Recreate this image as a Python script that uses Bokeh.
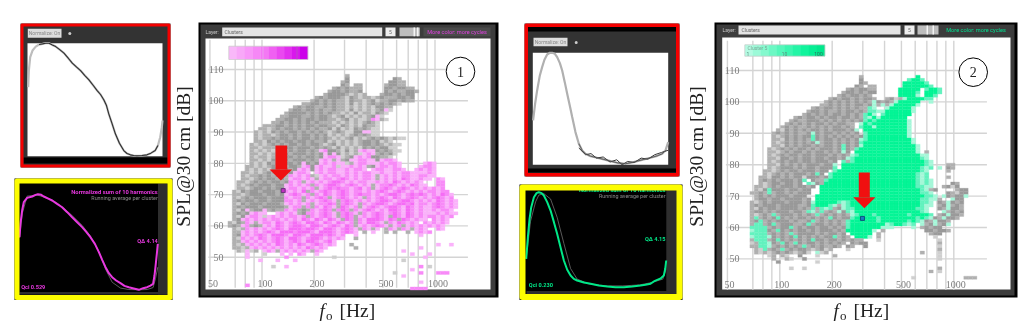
import math
from bokeh.plotting import figure
from bokeh.models import Range1d, LogScale
from bokeh.core.properties import value
from bokeh.embed import file_html
from bokeh.resources import INLINE

# ---------- data ----------
FREQ_GRID = [50, 70, 80, 90, 100, 200, 300, 400, 500, 600, 700, 800, 900, 1000]
FREQ_LABELS = [50, 100, 200, 500, 1000]
SPL_GRID = [50, 60, 70, 80, 90, 100, 110]

# rows of cells, one per dB from H_TOP_DB downwards; "col:codes" runs, later runs overwrite
# column 0 is MIDI note 36; . g d = grey shades, p m M = pink shades, t T G = green shades
H_TOP_DB = 108
H_FIRST_MIDI = 36
H1_ROWS = [
"27:g", "27:d 38:dg", "26:gd 37:ddgg", "26:dg 29:gg 36:gddgg", "24:gdgdggg 36:ddgddgg",
"23:gddgdggd 36:dgdggddg", "22:gddddg.g.g 35:gddgdgdd", "20:gdgdddg.dg.gg.g 35:dgggddgd",
"19:gdgdgdgg.dgg.gd.ggddgdgg", "17:ggddgdgdgg.d.g.gdgdgdg.", "15:gdgddggdgdgg.g.g.g.ddgg",
"14:gddgddgdggdgg.d.g.g.gdp.", "13:gddddgdgdgdgg.g.d.gg.dg.", "12:ggdddggdgddg.gd.g.g.gdp.",
"11:ggddgdgddgddgg.gd.g..gmpg.", "10:ggdgdgdgdgdggg.g.g.g.gdg.", "8:gggddgdgdgddgddgg.dg.g.dgg.",
"7:gg.gdgddgdgdgdggd.d.g.dgdg..", "6:g.g.dgdgddgdgdgdg.gdg..ddpp..", "6:g.gg.gddgdgddgdgd.g.g.gdgdg..",
"6:g.ggdgddgdgddgdgdg.g.gd.g.gdgdg.g..", "6:gg.dgdgddgddgdggd.g.g.g.gddgd.g.", "5:g.g.gdgdgddgdgddg.gd.g.g.gddgdg.g..",
"5:gg.gggdgddgdddgdgdg.d.g.g.dgdgdd..", "5:g.g.g.ddgdgddgdgdgddg.d.g.gdgdgdg.. 21:pm 30:pmpp",
"5:gg.g.gdgdgdddgdgdgdgd.g.g.dgdgdgd. 22:p 24:p 31:pmp", "5:g.gg.gdgddgdgddgdgg.g.gd.gdgddgg. 22:pmmp 29:pmpm",
"5:gg.g.ddgdgdddgdgdgdg.gd.g.gdgdg. 21:pmp 25:p 28:ppmmpp 35:pmmp",
"5:g.g.dgdgddgdddgddg.g.g.gdgdgdgd.. 17:p 21:pmpmpp 29:pmmpp 34:pmpmmp 45:pmp",
"4:gg.g.gdgdgddgdgdgg.dg.g.gdgdgd.g.. 17:pm 20:pmppm 26:ppmpmp 34:pmmpmp 44:pmmp",
"4:g.g.g.ddgdgdddgdgdd 16:pmp 20:pmpmmppmpmmp 33:pmmppmmp 43:pmpmp",
"3:gg.g.gdgddgdddg 15:pmmp 20:pmpmmppmpmpmmp 34:pmppmpmmpp 44:ppmp",
"3:g.ggdgdgddgdd 14:mpmpmg.pmpmmpmpmpmmpgpmpmpmmppmmpp",
"3:gg.gdgddgdg 14:pmmpmpgpmmpmMmpmpmmpgpmpmpMmppmpp 48:mp",
"2:gg.gdgdgddgd 14:mpmgpmpmpmMMmpmpmmppmpmpMmpmpmp 48:mm",
"2:g.gdgdddgddg 13:pmpmpmgmpmMMmpmMmpmpgpmmMmpmpMmpp 48:mm",
"2:gg.gddgdgdddg 13:pmmpmpmgpmMmMmmpmMpmgpmMmpmMmpmpmp 47:mpm",
"1:g.dgddgdddgdd 13:mpmpMgmpmMmpmMmpmmpmpmMmpmMmpmpmpmm 47:mpmm",
"1:gg.gdddgddgdd 13:pmMmpmgmpMmpmMmpmMmmpmpmMMmpmMmMmpm 47:mpMmp",
"1:g.gdgdddgdddg 13:mpmmgmpmMmgpmMmpmpgmpmMmpMmpmMmpmm 46:pmMmpm",
"1:gdgddgddgdddg 13:mmpmgpmpmMmpgmMmpmpmpmMMmpmMMmpmp 46:mpMmpmp",
"1:g.dgdddgdddg 13:pmpmpmgpmmMmgmMmpgmpmMMmpmMMmMpmm 45:mpmMmpmp",
"1:gdgdddgddddd 13:gpmmgmgmpMmpgMmpmgpmMmpmMMmpMmpmp 46:pmMmpmp",
"1:g.ddgdddgd 4:p 8:p 10:dgg 13:mpmgdgmpmMmgmMmgmpmMmpmpMMmpMmpmpp 47:mpmmp",
"1:gdgdgddg 5:pmpp 11:pm 13:pmpgdmmpmMmpgmMmpgmpmMmpmMmpMmpmpp 47:pmpmpp",
"1:g.dg 4:pmmp.pmpmpmmpmgmpmMmpgmMmgpmpmMmpgMmpMmpmpm 47:mpmpm",
"1:gd 3:pmpmpmpmmpmpmpMmpMmpMmpgMmgmpMMMmpMmgMmpmpp 47:mpmp",
"0:g.dg 4:mpgpmmpMmpmMmpMMmpMmpMmpmgmpMMmpgmpMmpmp 45:mpmpmp",
"0:gdg 3:pmgdgpmpMmpmMMmpMMmpmMmpMmgpmpmMmpgpmgpmpm 45:pmpmp",
"1:g.g 4:mpmpmpmMmpMMMmMMmpMMmpmMmpgmpgp 36:gmpgmpgpmp 48:mp",
"1:gg 3:pmpmpmMmpMMMmMMMmpMMMmpmMmp 31:g 33:p 36:g 38:g 41:g 43:pmpm",
"1:gd 3:pmpmMmpMMMmpMMmpMMMmMmpm 29:p 44:p",
"1:g. 3:mpmpMmpmMmpMMmpmMMmpmpmp 29:g",
"1:gg 3:pmpmpmpmMmpmMmpMMmpmMp",
"1:g.g 4:pmpmpmpMmpmpMmpmMmpmp 28:g 48:p 51:p",
"1:gg 3:.gpmpmpmpmpmpmpMmpmp 29:g 44:p",
"2:g.p.g 8:pmpgpmpmpmpgmp 40:p",
"4:p 8:. 12:p 14:p 16:mp 20:p 42:p 46:p",
"4:p 13:m 24:. 45:p",
"7:p 11:p 15:p 40:.",
"",
"10:. 13:p 44:m 46:.",
"42:p",
"38:. 44:m 48:mmm",
"40:p",
"",
"44:p",
"4:m",
"42:mmmm",
]
H2_ROWS = [
"26:g 39:G", "26:d 37:TGGT", "26:dg 36:GGGGGT", "25:dg 28:gg 36:GGGGGGT", "23:gdgddgg 35:GGGGG 41:TGGT",
"22:gddgdgdd 35:GGGGT 41:GGGT", "21:gdgddgdg 35:GGGG 39:t 41:GGT", "19:gdgddgdgddg 32:gd.gtGGGGT 42:T",
"18:gdgdgdgdgdg 29:tdgdgtGGGGG 42:t", "17:ggdgdgdgddgd 29:tgtgtGGGGGt", "15:gdgddgdgdgdg 27:gTt 32:tGGGGGt",
"14:gddgdggdgddgdg 28:TTt 31:tGGGGGGt", "13:gdgdgdgddgdgdg 27:TGt 31:TGGGGGG", "11:gdgddgdgddgddgdg 27:TtGt 31:GGGGGG",
"10:gdggdddgdgdgdgdgd 27:TGTt 30:GGGGGGGt", "9:gdgdgdgddgdgddgg 26:tGTGGGGGGGGt", "8:gdgdggdgdgdgddgdg 26:TGGtGGGGGGGt",
"7:g.dgdgdgddgdgdddgdg 25:t 27:GGGGGGGGGGt", "6:gdgdgdggdgdgddgdgdgd 15:t 27:TGGGGGGGGGt", "6:g.gdgdgddgdgdgdgdgdgd 15:T 27:TGGGGGGGGGt",
"6:gg.dgdgdgddgddgdgdgd 15:T 26:tTGGGGGGGGGGt", "6:g.gdgdgdgddgddgdgdgd 16:t 26:TGGGGGGGGGGGt", "6:gg.dgdgddgdgddgdgdgd 22:T 26:tGGGGGGGGGGGGt",
"5:g.gdgdgddgdgdddgdgdg 22:T 25:TGGGGGGGGGGGGGt", "5:gg.gdgddgdgddgdgdgd 22:t 25:GGGGGGGGGGGGGGt 41:g", "5:g.gdgddgddgdddgdgdg 24:tTGGGGGGGGGGGGGGt 41:t",
"5:gg.ddgdgddgddgddgd 23:tTGGGGGGGGGGGGGGGTt", "5:g.gdgddgddgdddgd 22:TgTGGGGGGGGGGGGGGGGTt", "5:gg.dgdgdgdddgdd 20:t 22:GGGGGGGGGGGGGGGGGGGTt 46:gg",
"5:g.gdddgdgddgdd 19:dT 22:GGGGGGGGGGGGGGGGGGTtT 44:t 46:dg", "4:gg.gdgddgdddgdd 20:TGGGGGGGGGGGGGGGGGGGTt 46:g", "4:g.gdgdgdddgddd 16:T 19:TGGGGGGGGGGGGGGGGGGGTtT",
"3:gg.ddgdgddgdddgd 13:. 19:TGGGGGGGGGGGGGGGGGGGTtT 46:g", "3:gdgdgdddgd 13:T 15:dgg 18:TGGGGGGGGGGGGGGGGGGGGTtTt", "3:g.gddgddgd 14:Tt 16:dg 18:GGGGGGGGGGGGGGGGGGGGGTtTt 47:dg",
"2:gg.gdgdddgddgd 17:GGGGGGGGGGGGGGGGGGGGGGTTtt 45:gd.d", "2:g.dgdddgddgdd 5:T 17:GGGGGGGGGGGGGGGGGGGGGGGTtgd 48:gdd", "1:g 2:gdgdgddgdgddd 5:T 17:GGGGGGGGGGGGGGGGGGGGGGGTTt 46:dg.dd",
"2:gdgdgdddgddd 16:GGGGGGGGGGGGGGGGGGGGGGGGGTTt 45:tdgddt", "2:gddgddgddddgd 16:GGGGGGGGGGGGGGGGGGGGGGGGTTttg 47:tdd", "1:g.gdgdddgdddgd 15:tGGGGGTtTGGGGGGGGGGGGGGGGTTt 44:dgtdgd",
"1:gdgdddgddddg 13:gd 15:TGGGTtgtTGGGGGGGGGGGGGGGGTtt 44:gdtgdg", "1:g.dgddgddddg 13:d 14:gTgTtTgdtTTGGGGGGGGGGGGGGTTt 44:dgtddg", "1:gddgdgdddgd 12:d 13:gTtgTgdgtdTtGGGGGGGGGGGGGGGTt 45:tgdgd",
"1:g.gdgTgdddgd 13:gdgTgdgdgdgtTGGGTGGGGGGGTGGGGT 44:gdtddg", "1:gTgdgdTdgdgd 13:dgdgdgTdgddTGGGGGTGGGGGGGGTGTt 43:dgtddg", "1:gdTgdgdddgdg 13:gdTgdgdgdgTGGGGGGTGGGGGGTGTt 41:dgtddg",
"1:gTTgdTgdddg 12:gdTgddgdgdgTGGGGGGGGtTGGTtT 40:tgdtgdt", "1:TTTTgdgddTgdgddgddgdgd 23:TGGGGGGGt 32:tt 38:t 40:gdgdd", "1:tTTTdgTdgdgddgdgdddgdg 23:GGGGGGt 31:g 41:ddgddg",
"1:TTTTgdgdgTgddddgdgddgd 24:GGGGG 30:g 42:gdd", "1:tTTTtdgdgdTdgdgdgddTgdg 25:GGGt 30:g 43:.", "1:gTTTgdTdgdgdgdTddgddgdgdg 26:g 30:. 44:.",
"1:.gTTtdgTdgTdgddgdgdgdg 24:dg 26:dd 44:g", "1:ggTTtgdgdgdgTgdgdggdg 23:dg 27:d 44:.", "2:g.TgdgTgdgddg.gd.g 23:. 44:g",
"2:g.g.gdgdg.gd. 16:t.g 40:g 44:.", "5:.g 8:g. 12:d 16:. 20:g 44:.", "6:g 9:g. 13:d 44:.", "7:d 16:.", "", "10:. 13:. 44:g", "42:g 44:.", "",
"38:. 50:ggg", "", "", "", "", "",
]
H1_MARK = (132.6, 71.3)
H2_MARK = (298.6, 62.9)

# normalised running curves (fraction of plot width, fraction of plot height)
A_X = [.005, .01, .02, .037, .061, .086, .111, .135, .16, .184, .209, .241, .27, .302, .332, .364, .393, .425, .455, .486,
       .516, .541, .565, .585, .602, .627, .651, .681, .713, .737, .762, .786, .811, .848, .885, .914, .946, .966, .983, .995, 1]
A_Y = [.611, .758, .876, .935, .97, .988, .994, 1, 1, .985, .97, .941, .912, .867, .823, .788, .758, .714, .676, .628,
       .581, .546, .499, .448, .375, .286, .198, .115, .05, .024, .012, .006, .003, .006, .012, .027, .05, .094, .168, .257, .316]
C_X = [.002, .017, .032, .052, .069, .086, .106, .126, .143, .163, .18, .2, .217, .236, .254, .273, .291, .315, .34, .365,
       .389, .426, .475, .525, .574, .623, .685, .734, .771, .82, .869, .919, .956, .98, 1]
C_Y = [.396, .545, .664, .798, .872, .938, .985, 1, 1, .991, .961, .908, .842, .738, .634, .53, .426, .292, .188, .128,
       .098, .077, .0625, .048, .033, .018, .009, .021, .033, .048, .0625, .08, .098, .128, .202]
C2_X = [.34, .39, .43, .47, .52, .57, .62, .66, .70, .75, .80, .85, .90, .95, 1.0]
C2_Y = [.15, .09, .10, .06, .07, .025, .045, .0, .03, .02, .06, .05, .09, .11, .13]
B_X = [0, .007, .019, .031, .055, .092, .116, .133, .157, .176, .212, .236, .272, .308, .345, .381, .417, .453, .484, .513,
       .545, .574, .598, .622, .646, .67, .699, .73, .759, .79, .826, .863, .894, .923, .947, .966, .976, .983, .993, 1]
B_Y = [.548, .685, .822, .908, .952, .966, .983, .99, .983, .966, .942, .925, .89, .856, .805, .753, .702, .651, .599, .548,
       .479, .394, .315, .24, .178, .137, .103, .075, .048, .034, .021, .007, .024, .034, .051, .068, .154, .24, .377, .479]
B_AVG_X = [0, .02, .055, .092, .133, .176, .236, .308, .381, .453, .513, .574, .622, .67, .73, .79, .863, .923, .966, .983, 1.0]
B_AVG_Y = [.54, .79, .97, .975, .98, .96, .93, .86, .77, .67, .56, .40, .22, .085, .025, .01, .007, .01, .03, .12, .24]
D_X = [0, .012, .024, .036, .055, .074, .09, .11, .126, .15, .174, .198, .221, .245, .269, .293, .317, .34, .364, .412,
       .46, .519, .579, .638, .698, .757, .817, .852, .888, .912, .936, .96, .983, .993, 1.0]
D_Y = [.31, .534, .724, .845, .948, .99, 1, .99, .966, .897, .81, .69, .569, .431, .293, .197, .138, .103, .086, .066,
       .052, .034, .024, .017, .017, .024, .034, .041, .052, .076, .093, .107, .138, .207, .293]
D_AVG_X = [0, .031, .067, .09, .126, .174, .221, .269, .317, .364, .45, .571, .69, .81, .88, .93, .976, .998]
D_AVG_Y = [.31, .70, .90, .97, .985, .93, .74, .47, .21, .10, .05, .03, .03, .04, .06, .08, .10, .20]

# colour codes
CELL_COLORS = {".": "#cfcfcf", "g": "#b0b0b0", "d": "#9a9a9a",
               "p": "#fab2fa", "m": "#f88af8", "M": "#f66cf6",
               "t": "#a5f7d8", "T": "#62f3bf", "G": "#04f596"}
PINK_BAR = ["#f9b8f9", "#f8a8f8", "#f898f8", "#f688f6", "#f478f4", "#f060f2", "#ea48f0", "#e230ee", "#d818ec", "#cc00ea"]
GREEN_BAR = ["#b4fbe2", "#9cfad8", "#84f9ce", "#6cf8c4", "#54f7ba", "#3cf6b0", "#24f5a6", "#10f49c", "#06ee94", "#00e88c"]

# ---------- canvas ----------
W, H = 1030, 330
p = figure(width=W, height=H, output_backend="svg", toolbar_location=None,
           x_range=Range1d(0, W), y_range=Range1d(H, 0),
           x_axis_type=None, y_axis_type=None, min_border=0)
p.grid.visible = False
p.outline_line_color = None
p.background_fill_color = "white"
p.border_fill_color = "white"
p.styles = {"filter": "blur(0.45px)"}


def add_x(name, px0, px1, v0, v1, log=False):
    """Register an x scale where value v0 sits at page pixel px0 and v1 at px1."""
    a, b = (math.log10(v0), math.log10(v1)) if log else (v0, v1)
    k = (b - a) / (px1 - px0)
    s, e = a + (0 - px0) * k, a + (W - px0) * k
    if log:
        s, e = 10 ** s, 10 ** e
        p.extra_x_scales[name] = LogScale()
    p.extra_x_ranges[name] = Range1d(s, e)


def add_y(name, px0, px1, v0, v1):
    k = (v1 - v0) / (px1 - px0)
    p.extra_y_ranges[name] = Range1d(v0 + (H - px0) * k, v0 + (0 - px0) * k)


def box(x0, y0, x1, y1, color, **kw):
    p.quad(left=[x0], right=[x1], top=[y0], bottom=[y1], fill_color=color, line_color=None, **kw)


def frame(x0, y0, x1, y1, color, t):
    p.quad(left=[x0 + t / 2], right=[x1 - t / 2], top=[y0 + t / 2], bottom=[y1 - t / 2],
           fill_color=None, line_color=color, line_width=t, line_join="round")


def txt(x, y, s, size, color, font="Roboto", align="left", base="middle", style="normal", angle=0, **kw):
    p.text(x=[x], y=[y], text=[s], text_font=value(font), text_font_size=size, text_color=color,
           text_align=align, text_baseline=base, text_font_style=style, angle=angle, **kw)


SERIF = "Liberation Serif"


def cells(rows, xn, yn):
    left, right, top, bottom, color = [], [], [], [], []
    for i, row in enumerate(rows):
        grid = {}
        for run in row.split():
            c, codes = run.split(":")
            for j, ch in enumerate(codes):
                grid[int(c) + j] = ch
        db = H_TOP_DB - i
        for c, ch in grid.items():
            m = H_FIRST_MIDI + c
            left.append(440 * 2 ** ((m - 69.5) / 12))
            right.append(440 * 2 ** ((m - 68.5) / 12))
            bottom.append(db - 0.5)
            top.append(db + 0.5)
            color.append(CELL_COLORS[ch])
    p.quad(left=left, right=right, top=top, bottom=bottom, fill_color=color, line_color=color,
           line_width=0.3, x_range_name=xn, y_range_name=yn)


def heatpanel(ox0, oy0, ox1, oy1, wx0, wy0, wx1, wy1, xn, yn, rows, tick_right, lab_off, bar, bar_box):
    box(ox0, oy0, ox1, oy1, "black")
    box(ox0 + 2, oy0 + 2, ox1 - 3, oy1 - 2, "#3c3c3c")
    box(wx0, wy0, wx1, wy1, "white")
    for f in FREQ_GRID:
        p.segment(x0=[f], x1=[f], y0=[40.2], y1=[119.5], line_color="#d4d4d4", line_width=1.4,
                  x_range_name=xn, y_range_name=yn)
    p.segment(x0=[49] * len(SPL_GRID), x1=[1550] * len(SPL_GRID), y0=SPL_GRID, y1=SPL_GRID,
              line_color="#d4d4d4", line_width=1.4, x_range_name=xn, y_range_name=yn)
    cells(rows, xn, yn)
    p.text(x=[tick_right] * len(SPL_GRID), y=SPL_GRID, text=[str(v) for v in SPL_GRID],
           text_font=value(SERIF), text_font_size="10px", text_color="#7d7d7d",
           text_align="right", text_baseline="middle", y_range_name=yn)
    p.text(x=FREQ_LABELS, y=[41.7] * len(FREQ_LABELS), text=[str(v) for v in FREQ_LABELS],
           text_font=value(SERIF), text_font_size="10px", text_color="#7d7d7d", text_align="center",
           text_baseline="middle", x_offset=lab_off, x_range_name=xn, y_range_name=yn)
    bx0, by0, bx1, by1 = bar_box
    step = (bx1 - bx0) / len(bar)
    for i, c in enumerate(bar):
        box(bx0 + i * step, by0, bx0 + (i + 1) * step + 0.3, by1, c)
    p.quad(left=[bx0], right=[bx1], top=[by0], bottom=[by1], fill_color=None, line_color="#c8c8c8", line_width=0.7)


add_x("h1x", 261.5, 434.5, 100, 1000, True)
add_y("h1y", 256.7, 69, 50, 110)
add_x("h2x", 779.3, 953.3, 100, 1000, True)
add_y("h2y", 258.4, 70, 50, 110)

# ----- panel 1 -----
heatpanel(198, 22, 498, 297, 205, 38, 490, 289, "h1x", "h1y", H1_ROWS, 223, 3, PINK_BAR, (228.3, 45.7, 307.3, 59))
box(262, 46, 263, 59, "#e8b0ee", fill_alpha=0.7)
box(296, 46, 297, 59, "#b060b8", fill_alpha=0.7)
txt(205, 31, "Layer:", "5px", "#c8c8c8")
box(221.7, 27, 381.7, 35.7, "#e4e4e4")
txt(224, 31.4, "Clusters", "5px", "#666666")
box(385, 27, 395, 35.7, "#eeeeee")
txt(390, 31.4, "5", "5px", "#666666", align="center")
box(399, 27, 419.3, 35.7, "#bdbdbd")
box(413, 27, 414.5, 35.7, "#f4f4f4")
box(416.5, 27, 418, 35.7, "#f4f4f4")
box(423, 27, 490, 35.7, "#4a4a4a")
txt(456.5, 31.4, "More color: more cycles", "5.6px", "#e040e0", align="center")

# ----- panel 2 -----
heatpanel(714, 22, 1017, 297, 721.7, 37, 1010, 289, "h2x", "h2y", H2_ROWS, 739, 2, GREEN_BAR, (744.3, 44.3, 824.3, 55.7))
txt(747, 47.5, "Cluster 5", "5px", "#7aa898")
txt(746, 53, "1", "5px", "#5f9080")
txt(784, 53, "10", "5px", "#5f9080", align="center")
txt(818, 53, "100", "5px", "#2f7060", align="center")
txt(722, 29.5, "Layer:", "5px", "#c8c8c8")
box(738, 25, 900, 34, "#e4e4e4")
txt(741, 29.5, "Clusters", "5px", "#666666")
box(904, 25, 914, 34, "#eeeeee")
txt(909, 29.5, "5", "5px", "#666666", align="center")
box(917, 25, 938, 34, "#bdbdbd")
box(926, 25, 927.5, 34, "#f4f4f4")
box(932, 25, 933.5, 34, "#f4f4f4")
txt(975.5, 29.5, "More color: more cycles", "5.6px", "#00e090", align="center")

# cluster-cell markers and arrows
for (mk, xn, yn, fc, lc) in ((H1_MARK, "h1x", "h1y", "#c030c0", "#5a2a70"), (H2_MARK, "h2x", "h2y", "#1a7fc0", "#0a3a70")):
    p.scatter(x=[mk[0]], y=[mk[1]], marker="square", size=4, fill_color=fc, line_color=lc, line_width=0.8,
              x_range_name=xn, y_range_name=yn)
for (sx0, sx1, y0, y1, hx0, hx1, tip) in ((275, 286.7, 145, 169, 269, 291.7, 180), (858.3, 869.3, 172, 196.7, 852.7, 875, 207.7)):
    box(sx0, y0, sx1, y1, "#f01010")
    p.patch(x=[hx0, hx1, (hx0 + hx1) / 2], y=[y1, y1, tip], fill_color="#f01010", line_color=None)

for (cx, cy, s) in ((460, 71, "1"), (972.7, 71.7, "2")):
    p.circle(x=[cx], y=[cy], radius=14.3, fill_color="white", line_color="black", line_width=1)
    txt(cx, cy, s, "14px", "#222222", font=SERIF, align="center")

# ----- axis titles -----
for (x, fx) in ((182.7, 319), (696, 833)):
    txt(x, 156, "SPL@30 cm [dB]", "19.5px", "#222222", font=SERIF, align="center", angle=math.pi / 2)
    txt(fx, 310, "f", "19px", "#222222", font=SERIF, style="italic")
    txt(fx + 6.5, 315, "o", "13px", "#222222", font=SERIF)
    txt(fx + 20, 310, "[Hz]", "19.5px", "#222222", font=SERIF)

# ----- red-framed curves -----
add_x("ax", 27, 162, 0, 1)
add_y("ay", 155.7, 42.7, 0, 1)
add_x("cx", 532.3, 667.7, 0, 1)
add_y("cy", 164.3, 52.3, 0, 1)

box(20, 23, 170, 167, "#333333")
box(23, 157, 167, 163, "black")
box(27, 42.7, 162, 155.7, "white")
box(27.3, 28.3, 61, 37.3, "#dddddd")
txt(44, 32.8, "Normalize: On", "5px", "#888888", align="center")
p.circle(x=[69.3], y=[33], radius=1.5, fill_color="#cccccc", line_color=None)
p.line(A_X, A_Y, line_color="#bdbdbd", line_width=2.2, x_range_name="ax", y_range_name="ay")
p.line(A_X[5:-3], A_Y[5:-3], line_color="#2e2e2e", line_width=1.1, x_range_name="ax", y_range_name="ay")
frame(20, 23, 170, 167, "#f40000", 3)

box(524, 23, 679, 176, "#333333")
box(527, 26, 676, 31, "black")
box(527, 168, 676, 172, "black")
box(532.3, 52.3, 667.7, 164.3, "white")
box(533, 37.3, 567, 45.7, "#dddddd")
txt(550, 41.6, "Normalize: On", "5px", "#888888", align="center")
p.circle(x=[575.7], y=[42], radius=1.5, fill_color="#cccccc", line_color=None)
p.line(C_X, C_Y, line_color="#b0b0b0", line_width=2.2, x_range_name="cx", y_range_name="cy")
p.line(C2_X, C2_Y, line_color="#3a3a3a", line_width=1, x_range_name="cx", y_range_name="cy")
p.line(C_X[18:-1], C_Y[18:-1], line_color="#555555", line_width=0.9, x_range_name="cx", y_range_name="cy")
frame(524, 23, 679, 176, "#f40000", 3.5)

# ----- yellow-framed curves -----
add_x("bx", 19, 157.3, 0, 1)
add_y("by", 290, 192.7, 0, 1)
add_x("dx", 525.7, 665.7, 0, 1)
add_y("dy", 288.3, 191.7, 0, 1)

box(14, 178, 172, 299.5, "black")
box(157.5, 183, 167, 294, "#2e2e2e")
box(19, 291.5, 167, 294, "#2e2e2e")
p.line(B_AVG_X, B_AVG_Y, line_color="#707070", line_width=0.8, x_range_name="bx", y_range_name="by")
p.line(B_X, B_Y, line_color="#e838e0", line_width=2, x_range_name="bx", y_range_name="by")
txt(157.3, 191, "Normalized sum of 10 harmonics", "5.8px", "#e838e0", align="right", style="bold")
txt(157.3, 197.7, "Running average per cluster", "5.4px", "#8a8a8a", align="right")
txt(157.3, 240.7, "Q\u0394 4.14", "5.6px", "#e838e0", align="right", style="bold")
txt(20.7, 286.7, "Qci 0.529", "5.6px", "#e838e0", style="bold")
frame(14, 178, 172, 299.5, "#fdfd00", 5)

box(519, 184, 682, 299.5, "black")
box(665.8, 189, 677, 293.5, "#2e2e2e")
box(526, 290.5, 677, 293.5, "#2e2e2e")
p.line(D_AVG_X, D_AVG_Y, line_color="#707070", line_width=0.8, x_range_name="dx", y_range_name="dy")
p.line(D_X, D_Y, line_color="#00e888", line_width=2, x_range_name="dx", y_range_name="dy")
txt(665, 189.8, "Normalized sum of 10 harmonics", "5.8px", "#00e888", align="right", style="bold")
txt(665, 195.5, "Running average per cluster", "5.4px", "#8a8a8a", align="right")
txt(665, 238.7, "Q\u0394 4.15", "5.6px", "#00e888", align="right", style="bold")
txt(528.3, 284.7, "Qci 0.230", "5.6px", "#00e888", style="bold")
frame(519, 184, 682, 299.5, "#fdfd00", 6)

open("out.html", "w").write(file_html(p, INLINE))
